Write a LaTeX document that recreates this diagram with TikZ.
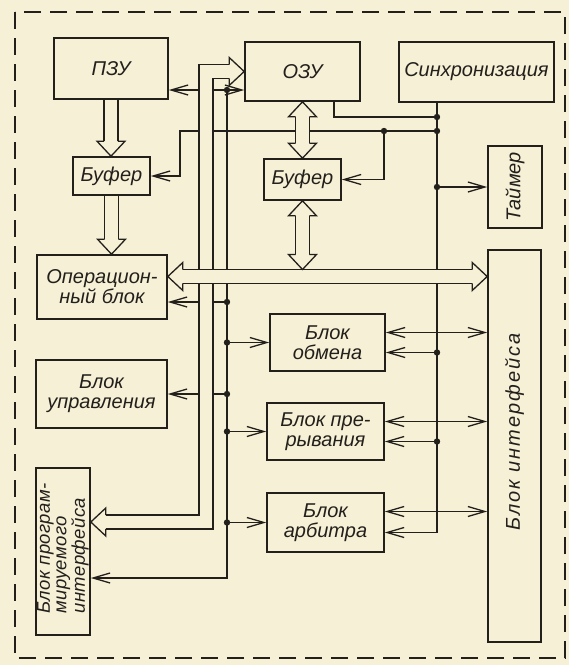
\documentclass[tikz,border=0pt]{standalone}
\usepackage{fontspec}
\setmainfont{Liberation Sans}
\usetikzlibrary{arrows.meta}

\definecolor{paper}{RGB}{245,240,214}
\definecolor{ink}{RGB}{35,32,28}

\begin{document}
\begin{tikzpicture}[x=1pt, y=-1pt, >={Straight Barb[length=17pt,width=10pt]},
  every node/.style={font=\fontsize{20}{20}\selectfont\itshape, text=ink},
  box/.style={draw=ink, line width=1.6pt, align=center, inner sep=2pt},
  wire/.style={draw=ink, line width=1.3pt},
  bus/.style={draw=ink, line width=1.3pt, double=paper, double distance=12.5pt},
  fathead/.pic={\filldraw[draw=ink, fill=paper, line width=1.3pt] (-15pt,6.9pt) -- (-15pt,14pt) -- (0pt,0pt) -- (-15pt,-14pt) -- (-15pt,-6.9pt);}]
\fill[paper] (0,0) rectangle (569,665);
\useasboundingbox (0,0) rectangle (569,665);
\draw[ink, line width=2pt, dash pattern=on 17pt off 9pt] (15,12) rectangle (565,658);

% blocks
\node[box, minimum width=114pt, minimum height=61pt] (pzu) at (111,68.5) {ПЗУ};
\node[box, minimum width=115pt, minimum height=59pt] (ozu) at (302.5,71.5) {ОЗУ};
\node[box, minimum width=155pt, minimum height=60pt] (sync) at (476.5,72) {Синхронизация};
\node[box, minimum width=77pt, minimum height=38pt] (bufa) at (111.5,176) {Буфер};
\node[box, minimum width=77pt, minimum height=41pt] (bufb) at (302.5,179.5) {Буфер};
\node[box, minimum width=54pt, minimum height=82pt] (timer) at (515,187) {};
\node[rotate=90] (timertxt) at (timer) {Таймер};
\node[box, minimum width=130pt, minimum height=64pt] (oper) at (102,287) {Операцион-\\ный блок};
\node[box, minimum width=131pt, minimum height=68pt] (ctrl) at (101.5,394) {Блок\\управления};
\node[box, minimum width=54pt, minimum height=167pt] (pif) at (63,551.5) {};
\node[rotate=90, align=left, font=\fontsize{18.5}{16.5}\selectfont\itshape\addfontfeature{LetterSpace=2}] (piftxt) at ([yshift=3pt]pif.center) {Блок програм-\\мируемого\\интерфейса};
\node[box, minimum width=115pt, minimum height=57pt] (xchg) at (327.5,342.5) {Блок\\обмена};
\node[box, minimum width=117pt, minimum height=57pt] (intr) at (325.5,431.5) {Блок пре-\\рывания};
\node[box, minimum width=117pt, minimum height=59pt] (arb) at (325.5,522.5) {Блок\\арбитра};
\node[box, minimum width=53pt, minimum height=392pt] (iface) at (514.5,446) {};
\node[rotate=90, font=\fontsize{20}{20}\selectfont\itshape\addfontfeature{LetterSpace=10}] (ifacetxt) at ([yshift=14pt]iface.center) {Блок интерфейса};

% points of the lines
\coordinate (c1) at (227,90);
\coordinate (c2) at (227,578);
\coordinate (s0) at (437,102);
\coordinate (s1) at (437,117);
\coordinate (s2) at (437,131);
\coordinate (o1) at (334,117);
\coordinate (b1) at (180,131);
\coordinate (b2) at (384,131);
\coordinate (abus) at (206,522);
\coordinate (dbus) at (300,276.5);
\coordinate (j1) at ([yshift=-15pt]oper.east -| c1);
\coordinate (j2) at (xchg.west -| c1);
\coordinate (j3) at (ctrl.east -| c1);
\coordinate (j4) at (intr.west -| c1);
\coordinate (j5) at (arb.west -| c1);
\coordinate (s3) at (timer.west -| s0);
\coordinate (s4) at ([yshift=-10pt]xchg.east -| s0);
\coordinate (s5) at ([yshift=-10pt]intr.east -| s0);

% control lines
\draw[wire, <->] (c1 -| pzu.east) -- (c1 -| ozu.west);
\draw[wire, ->] (c1) -- (c2) -- (c2 -| pif.east);
\draw[wire, ->] (j1) -- (j1 -| oper.east);
\draw[wire, ->] (j2) -- (xchg.west);
\draw[wire, ->] (j3) -- (ctrl.east);
\draw[wire, ->] (j4) -- (intr.west);
\draw[wire, ->] (j5) -- (arb.west);
\draw[wire, ->] (s0) -- ([yshift=-10pt]arb.east -| s0) -- ([yshift=-10pt]arb.east);
\draw[wire] (ozu.south -| o1) -- (o1) -- (s1);
\draw[wire, ->] (s2) -- (b1) -- (b1 |- bufa.east) -- (bufa.east);
\draw[wire, ->] (b2) -- (b2 |- bufb.east) -- (bufb.east);
\draw[wire, ->] (s3) -- (timer.west);
\draw[wire, ->] (s4) -- (s4 -| xchg.east);
\draw[wire, ->] (s5) -- (s5 -| intr.east);
\draw[wire, <->] ([yshift=10pt]xchg.east) -- ([yshift=10pt]xchg.east -| iface.west);
\draw[wire, <->] ([yshift=10pt]intr.east) -- ([yshift=10pt]intr.east -| iface.west);
\draw[wire, <->] ([yshift=11pt]arb.east) -- ([yshift=11pt]arb.east -| iface.west);
\foreach \p in {c1,j1,j2,j3,j4,j5,s1,s2,s3,s4,s5,b2}
  \fill[ink] (\p) circle (3.2pt);

% buses
\draw[bus, shorten <=15pt, shorten >=15pt] (ozu.west) -- (ozu.west -| abus) -- (abus) -- (abus -| pif.east);
\pic at (ozu.west) {fathead};
\pic[rotate=180] at (abus -| pif.east) {fathead};
\draw[bus, shorten <=15pt, shorten >=15pt] (dbus -| oper.east) -- (dbus -| iface.west);
\pic[rotate=180] at (dbus -| oper.east) {fathead};
\pic at (dbus -| iface.west) {fathead};
\draw[bus, shorten >=15pt] (pzu.south) -- (pzu.south |- bufa.north);
\pic[rotate=-90] at (pzu.south |- bufa.north) {fathead};
\draw[bus, shorten >=15pt] (bufa.south) -- (bufa.south |- oper.north);
\pic[rotate=-90] at (bufa.south |- oper.north) {fathead};
\draw[bus, shorten <=15pt, shorten >=15pt] (ozu.south) -- (bufb.north);
\pic[rotate=90] at (ozu.south) {fathead};
\pic[rotate=-90] at (bufb.north) {fathead};
\coordinate (t1) at ([yshift=7pt]bufb.south |- dbus);
\draw[bus, shorten <=15pt, shorten >=15pt] (bufb.south) -- (t1);
\pic[rotate=90] at (bufb.south) {fathead};
\pic[rotate=-90] at (t1) {fathead};
\end{tikzpicture}
\end{document}
